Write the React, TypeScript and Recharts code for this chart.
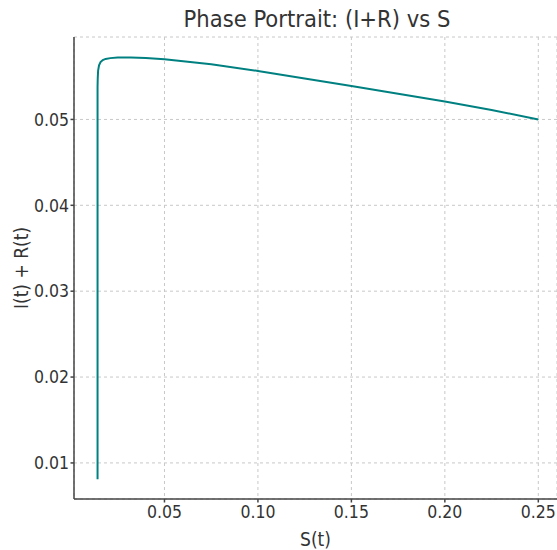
import { LineChart, Line, XAxis, YAxis, CartesianGrid } from "recharts"

// S(t) values along the trajectory
const sValues = [
  0.0142, 0.0142, 0.0142, 0.0142, 0.0143, 0.0145, 0.0150, 0.0158, 0.0170, 0.0185,
  0.0210, 0.0250, 0.0320, 0.0400, 0.0500, 0.0750, 0.1000, 0.1250, 0.1500, 0.1750,
  0.2000, 0.2250, 0.2500,
]

// I(t) + R(t) values
const irValues = [
  0.0081, 0.0300, 0.0500, 0.0538, 0.0548, 0.0557, 0.0563, 0.05668, 0.05692, 0.05705,
  0.05714, 0.05720, 0.05722, 0.05716, 0.0570, 0.05643, 0.05565, 0.05478, 0.0539, 0.0530,
  0.0521, 0.0511, 0.0500,
]

const xTicks = [0.05, 0.1, 0.15, 0.2, 0.25]
const yTicks = [0.01, 0.02, 0.03, 0.04, 0.05]

const data = sValues.map((s, i) => ({ s, ir: irValues[i] }))

const font = "'DejaVu Sans Condensed', 'DejaVu Sans', sans-serif"
const axisColor = "#444"
const textColor = "#333"

export default function App() {
  return (
    <div style={{ position: "absolute", left: 0, top: 0, fontFamily: font }}>
      <svg width={557} height={37} style={{ position: "absolute", left: 0, top: 0 }}>
        <text x={317} y={27} textAnchor="middle" fontSize={23.5} fill={textColor} fontFamily={font}>
          Phase Portrait: (I+R) vs S
        </text>
      </svg>
      <LineChart width={557} height={550} data={data} margin={{ top: 37, right: 0, bottom: 0, left: 0 }}>
        <CartesianGrid stroke="#c8c8c8" strokeDasharray="3 3" />
        <XAxis
          dataKey="s"
          type="number"
          domain={[0.0016, 0.26]}
          ticks={xTicks}
          tickFormatter={(v: number) => v.toFixed(2)}
          height={51}
          tickSize={3.5}
          tickMargin={3}
          stroke={axisColor}
          strokeWidth={1.5}
          tick={{ fontSize: 17.5, fill: textColor, fontFamily: font }}
          allowDataOverflow
          label={{ value: "S(t)", position: "insideBottom", offset: 4, fontSize: 19, fill: textColor, fontFamily: font }}
        />
        <YAxis
          type="number"
          domain={[0.0058, 0.0596]}
          ticks={yTicks}
          tickFormatter={(v: number) => v.toFixed(2)}
          width={74}
          tickSize={3.5}
          tickMargin={1.5}
          stroke={axisColor}
          strokeWidth={1.5}
          tick={{ fontSize: 17.5, fill: textColor, fontFamily: font }}
          allowDataOverflow
          label={{ value: "I(t) + R(t)", angle: -90, position: "insideLeft", offset: 21, fontSize: 19, fill: textColor, fontFamily: font, style: { textAnchor: "middle" } }}
        />
        <Line
          dataKey="ir"
          type="linear"
          stroke="#008080"
          strokeWidth={2}
          dot={false}
          isAnimationActive={false}
        />
      </LineChart>
    </div>
  )
}
